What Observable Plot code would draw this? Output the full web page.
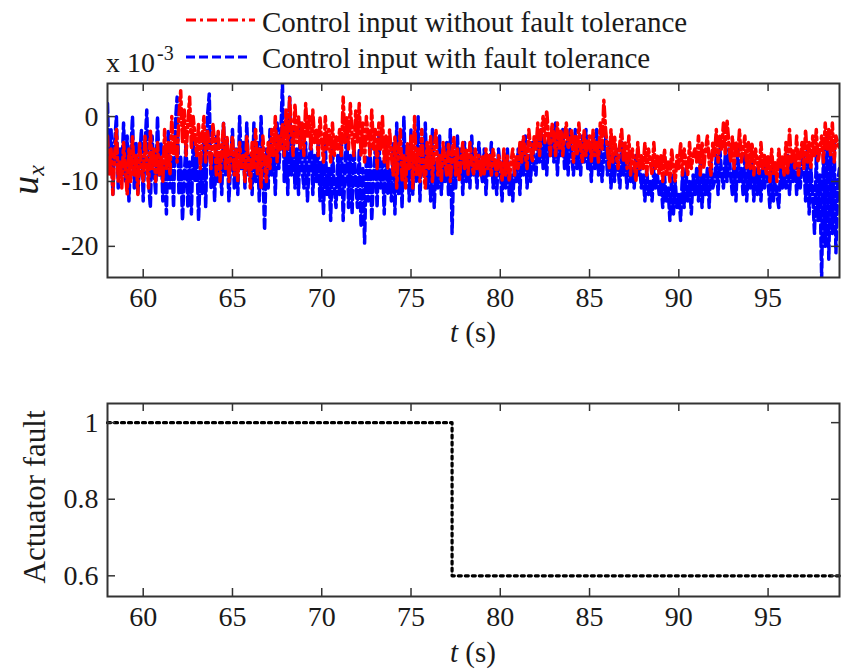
<!DOCTYPE html>
<html>
<head>
<meta charset="utf-8">
<script src="https://cdn.jsdelivr.net/npm/d3@7"></script>
<script src="https://cdn.jsdelivr.net/npm/@observablehq/plot@0.6"></script>
<style>
  html, body { margin: 0; padding: 0; background: #fff; }
  #wrap { position: relative; width: 846px; height: 671px; overflow: hidden; background: #fff; }
  #wrap > svg { position: absolute; left: 0; margin: 0; }
  #wrap svg, #wrap text, #wrap tspan { font-family: "Liberation Serif", "Times New Roman", serif !important; }
  .serif { fill: #1a1a1a; }
</style>
</head>
<body>
<div id="wrap"></div>
<script>
// ---------- data (u_x in units of 1e-3, sampled every 0.1 s from t = 58 s) ----------
const tStart = 58;
const tStep = 0.1;
const seriesNames = ["Control input without fault tolerance", "Control input with fault tolerance"];
const redValues = [
  -3, -9, -5, -12, -6, -2, -10, -7, -11, -4,
  -8, -12, -5, -10, -3, -9, -6, -12, -4, -8,
  -10, -3, -7, -11, -2, -8, -5, -10, -4, -9,
  -6, -10, -2, -8, -4, -9, 0, -6, -3, -7,
  0, 4, -4, 1, -6, -1, 3, -5, 0, -3,
  -6, -1, -8, -3, 0, -7, -2, -5, -8, -1,
  -4, -9, -2, -10, -5, -1, -8, -3, -10, -6,
  -3, -9, -5, -10, -4, -8, -6, -10, -3, -7,
  -11, -4, -8, -2, -9, -5, -11, -3, -7, -10,
  -4, -8, -2, -6, 0, -7, -3, -5, -1, -6,
  1, -5, 3, -2, -6, 2, -4, 0, -5, -1,
  -6, 2, -3, 0, -5, 1, -4, -2, -6, 0,
  -4, -7, 0, -5, -2, -7, -1, -6, -3, -5,
  -2, -6, 3, -4, 0, -5, 2, -3, -6, 1,
  -4, 2, -6, -1, -7, 0, -3, -6, 1, -5,
  -2, -8, -1, -5, 0, -7, -3, -8, -2, -6,
  -9, -3, -11, -5, -2, -10, -6, -11, -4, -8,
  -3, -11, 0, -9, -5, -10, -2, -8, -11, -4,
  -8, -3, -10, -5, -2, -9, -6, -10, -4, -7,
  -9, -4, -10, -6, -3, -9, -5, -10, -7, -4,
  -8, -5, -9, -4, -7, -9, -5, -8, -6, -9,
  -6, -9, -5, -8, -6, -9, -5, -7, -9, -6,
  -7, -10, -5, -9, -6, -10, -7, -5, -9, -6,
  -8, -4, -7, -3, -6, -8, -2, -5, -7, -3,
  -5, -1, -6, -2, 0, -4, 1, -3, -6, -1,
  -3, -6, -1, -5, -2, -6, -3, -1, -5, -4,
  -2, -7, -3, -6, -1, -5, -7, -2, -6, -4,
  -3, -7, -2, -6, -4, -7, -1, -5, 2.5, -2,
  -5, -8, -2, -7, -3, -6, -8, -4, -2, -7,
  -4, -8, -3, -9, -5, -7, -10, -4, -8, -6,
  -8, -4, -9, -5, -7, -9, -4, -8, -6, -9,
  -6, -10, -5, -9, -7, -10, -5, -8, -10, -6,
  -8, -4, -9, -5, -7, -9, -4, -8, -6, -5,
  -7, -3, -9, -4, -8, -5, -3, -7, -9, -4,
  -6, -2, -7, -3, -5, -1, -6, -0.5, -4, -7,
  -3, -8, -4, -6, -2, -7, -5, -3, -8, -4,
  -8, -4, -9, -5, -7, -9, -4, -8, -6, -9,
  -6, -10, -5, -9, -7, -10, -5, -8, -6, -9,
  -4, -9, -2, -7, -5, -8, -3, -9, -6, -4,
  -8, -2, -7, -4, -8, -3, -6, -2, -7, -5,
  -3, -7, -1, -5, -2, -6, -1, -7, -3, -4,
  -5
];
const blueValues = [
  2, -8, -2, -12, -4, 0, -11, -5, -9, -1,
  -10, -3, -13, -6, 0, -11, -4, -12, -7, -2,
  -13, -5, 1, -10, -14, -3, -8, -12, 0, -9,
  -4, -13, -7, -15, -2, -11, -6, -14, -1, 3,
  -12, -6, -16, -9, -4, -14, -7, -15, -3, -10,
  -5, -16, -8, -12, -3, -14, 0, 3.5, -11, -6,
  -13, -3, -10, -6, -12, -1, -9, -4, -13, -7,
  -2, -11, -5, -12, 0, -8, -4, -11, -1, -9,
  -6, -12, -1, -10, -4, -13, 0, -8, -17.5, -5,
  -11, -2, -9, -5, -12, -1, -8, -3, 5, -10,
  -4, -12, 3, -9, -2, -11, -5, -12, -1, -8,
  -11, -4, -13, -7, -3, -12, -6, -10, -4, -13,
  -7, -15, -4, -12, -8, -16, -5, -11, -14, -6,
  -12, -3, -16, -8, -2, -14, -6, -15, -4, -10,
  -14, -5, -17, -8, -19.5, -6, -13, -4, -16, -9,
  -5, -14, -3, -11, -7, -15, -4, -12, -8, -13,
  -4, -15, -1, -12, -6, -14, 0, -10, -5, -13,
  -2, -12, -6, -10, 0, -13, -4, -9, -1, -11,
  -5, -13, -2, -14, -7, -11, -3, -12, -6, -10,
  -4, -12, -2, -18, -6, -11, -3, -9, -5, -12,
  -4, -10, -6, -11, -3, -9, -7, -11, -4, -8,
  -10, -5, -12, -6, -9, -4, -11, -7, -12, -5,
  -8, -13, -6, -11, -5, -12, -9, -13, -7, -10,
  -5, -12, -4, -9, -3, -11, -6, -10, -4, -8,
  -9, -3, -7, -2, -8, -4, -9, -3, -6, -2,
  -7, -1, -9, -3, -6, -2, -8, -4, -9, -2,
  -6, -9, -2, -8, -4, -9, -3, -7, -2, -8,
  -5, -10, -3, -8, -2, -9, -4, -10, -6, -3,
  -9, -4, -11, -6, -10, -5, -8, -11, -4, -9,
  -7, -11, -6, -10, -8, -11, -6, -9, -7, -11,
  -9, -13, -8, -12, -10, -13, -8, -11, -9, -12,
  -10, -14, -9, -13, -11, -16, -9, -15, -10, -14,
  -12, -16, -9, -14, -8, -13, -10, -15, -9, -12,
  -8, -13, -7, -14, -9, -12, -8, -14, -7, -11,
  -10, -6, -12, -5, -9, -11, -6, -10, -5, -9,
  -12, -7, -13, -5, -10, -8, -12, -6, -13, -8,
  -11, -7, -13, -8, -12, -9, -13, -7, -11, -8,
  -10, -14, -8, -13, -9, -12, -14, -8, -11, -9,
  -11, -6, -12, -7, -10, -6, -12, -8, -11, -7,
  -6, -13, -5, -15, -8, -12, -18, -6, -16, -9,
  -25, -5, -20, -3, -22, -6, -18, -4, -21, -10,
  -8
];
// actuator fault (step)
const faultTimes = [58, 77.3, 99];
const faultValues = [1, 0.6, 0.6];
// ticks
const xTicks = [60, 65, 70, 75, 80, 85, 90, 95];
const yTicksTop = [-20, -10, 0];
const yTicksBottom = [0.6, 0.8, 1];

// ---------- build tables ----------
const redData = redValues.map((v, i) => ({t: tStart + i * tStep, v}));
const blueData = blueValues.map((v, i) => ({t: tStart + i * tStep, v}));
const faultData = faultTimes.map((t, i) => ({t, v: faultValues[i]}));

const W = 846;
const FONT = '"Liberation Serif", "Times New Roman", serif';
const axisColor = "#333";
const textColor = "#1a1a1a";

function boxTicks(xT, yT, pw, ph) {
  const len = 8;
  return [
    Plot.frame({stroke: axisColor, strokeWidth: 2}),
    Plot.tickX(xT, {x: d => d, insetTop: ph - len, stroke: axisColor, strokeWidth: 1.5}),
    Plot.tickX(xT, {x: d => d, insetBottom: ph - len, stroke: axisColor, strokeWidth: 1.5}),
    Plot.tickY(yT, {y: d => d, insetRight: pw - len, stroke: axisColor, strokeWidth: 1.5}),
    Plot.tickY(yT, {y: d => d, insetLeft: pw - len, stroke: axisColor, strokeWidth: 1.5}),
    Plot.axisX({ticks: xT, tickSize: 0, tickPadding: 10, label: null, fontSize: 28, fill: textColor, fontFamily: FONT}),
    Plot.axisY({ticks: yT, tickSize: 0, tickPadding: 9, label: null, fontSize: 28, fill: textColor, fontFamily: FONT, tickFormat: d => String(d)})
  ];
}

// ---------- top plot ----------
const topH = 360, topMT = 83, topMB = 83, ML = 107, MR = 7;
const pw = W - ML - MR;
const topPlot = Plot.plot({
  width: W, height: topH,
  marginLeft: ML, marginRight: MR, marginTop: topMT, marginBottom: topMB,
  x: {domain: [58, 99]},
  y: {domain: [-24.8, 5.1]},
  style: {fontFamily: FONT, fontSize: "28px", color: textColor, background: "transparent"},
  marks: [
    Plot.lineY(blueData, {x: "t", y: "v", stroke: "#0000ff", strokeWidth: 3.5, strokeDasharray: "9,4", clip: true}),
    Plot.lineY(redData, {x: "t", y: "v", stroke: "#ff0000", strokeWidth: 3.5, strokeDasharray: "10,4,3,4", clip: true}),
    ...boxTicks(xTicks, yTicksTop, pw, topH - topMT - topMB)
  ]
});
topPlot.style.top = "0px";

// ---------- bottom plot ----------
const botTop = 360, botH = 311, botMT = 43, botMB = 75;
const botPlot = Plot.plot({
  width: W, height: botH,
  marginLeft: ML, marginRight: MR, marginTop: botMT, marginBottom: botMB,
  x: {domain: [58, 99]},
  y: {domain: [0.546, 1.05]},
  style: {fontFamily: FONT, fontSize: "28px", color: textColor, background: "transparent"},
  marks: [
    Plot.line(faultData, {x: "t", y: "v", curve: "step-after", stroke: "#000", strokeWidth: 3.2, strokeDasharray: "3,4"}),
    ...boxTicks(xTicks, yTicksBottom, pw, botH - botMT - botMB)
  ]
});
botPlot.style.top = botTop + "px";

const wrap = document.getElementById("wrap");
wrap.appendChild(topPlot);
wrap.appendChild(botPlot);

// ---------- overlay: legend, labels ----------
const ov = d3.create("svg").attr("width", W).attr("height", 671)
  .style("position", "absolute").style("left", "0px").style("top", "0px")
  .style("pointer-events", "none");

// legend
ov.append("line").attr("x1", 186).attr("x2", 255).attr("y1", 20).attr("y2", 20)
  .attr("stroke", "#ff0000").attr("stroke-width", 3).attr("stroke-dasharray", "10,4,3,4");
ov.append("text").attr("class", "serif").attr("x", 262).attr("y", 32).attr("font-size", 29).text(seriesNames[0]);
ov.append("line").attr("x1", 186).attr("x2", 251).attr("y1", 57).attr("y2", 57)
  .attr("stroke", "#0000ff").attr("stroke-width", 3).attr("stroke-dasharray", "9,4");
ov.append("text").attr("class", "serif").attr("x", 262).attr("y", 68).attr("font-size", 29).text(seriesNames[1]);

// exponent
const ex = ov.append("text").attr("class", "serif").attr("x", 106).attr("y", 72).attr("font-size", 28);
ex.append("tspan").text("x 10");
ex.append("tspan").attr("font-size", 20).attr("dy", -12).attr("dx", 2).text("-3");

// u_x label
const ux = ov.append("text").attr("class", "serif").attr("text-anchor", "middle")
  .attr("transform", "translate(38,180) rotate(-90)");
ux.append("tspan").attr("font-style", "italic").attr("font-size", 38).text("u");
ux.append("tspan").attr("font-style", "italic").attr("font-size", 24).attr("dy", 6).text("x");

// t (s) labels
for (const y of [342, 662]) {
  const tt = ov.append("text").attr("class", "serif").attr("text-anchor", "middle")
    .attr("x", 473).attr("y", y).attr("font-size", 29);
  tt.append("tspan").attr("font-style", "italic").text("t");
  tt.append("tspan").text(" (s)");
}

// Actuator fault label
ov.append("text").attr("class", "serif").attr("text-anchor", "middle")
  .attr("transform", "translate(45,497) rotate(-90)").attr("font-size", 31).text("Actuator fault");

wrap.appendChild(ov.node());
</script>
</body>
</html>
